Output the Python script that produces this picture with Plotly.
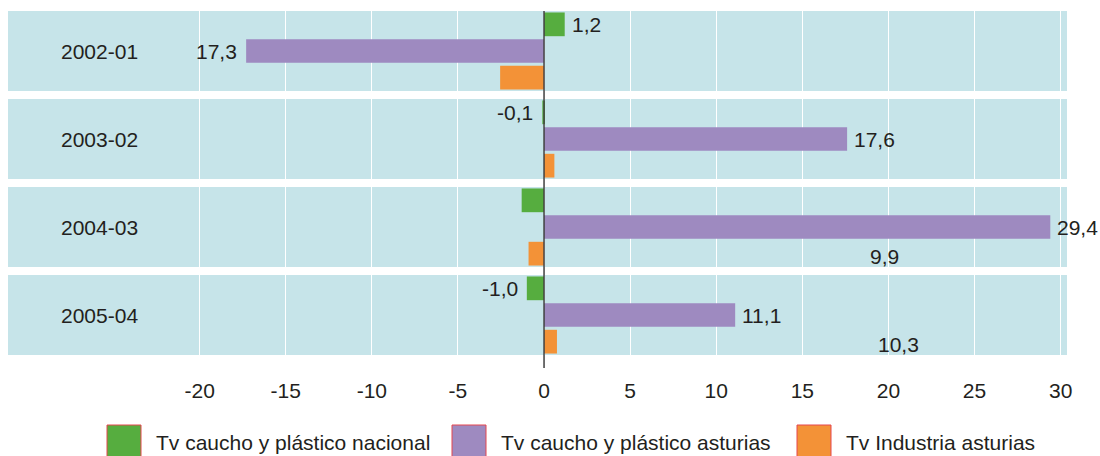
import plotly.graph_objects as go

categories = ["2002-01", "2003-02", "2004-03", "2005-04"]
series_names = ["Tv caucho y plástico nacional", "Tv caucho y plástico asturias", "Tv Industria asturias"]
nacional = [1.2, -0.1, -1.3, -1.0]
asturias = [-17.3, 17.6, 29.4, 11.1]
industria = [-2.55, 0.6, -0.9, 0.75]
nacional_labels = ["1,2", "-0,1", "", "-1,0"]
asturias_labels = ["17,3", "17,6", "29,4", "11,1"]
industria_labels = ["", "", "9,9", "10,3"]
industria_label_pos = [None, None, 19.8, 20.6]
x_ticks = [-20, -15, -10, -5, 0, 5, 10, 15, 20, 25, 30]

colors = ["#56ad3f", "#9e8ac0", "#f39237"]
band_color = "#c6e4e9"
text_color = "#231f20"
FONT = "Liberation Sans, Arial, sans-serif"
FS = 21

fig = go.Figure()
series = [nacional, asturias, industria]
for name, vals, col in zip(series_names, series, colors):
    fig.add_trace(go.Bar(
        y=categories, x=vals, name=name, orientation="h",
        marker=dict(color=col, line=dict(width=0)),
        showlegend=False, hoverinfo="x+y",
    ))

# plot geometry
band_half = 0.4545
slot = 2 * band_half / 3
offsets = [-slot, 0, slot]

shapes = []
annotations = []
for i, cat in enumerate(categories):
    shapes.append(dict(type="rect", xref="paper", x0=0, x1=1, yref="y",
                       y0=i - band_half, y1=i + band_half,
                       fillcolor=band_color, line=dict(width=0), layer="below"))
    annotations.append(dict(x=0.086, xref="paper", y=i, yref="y", text=cat,
                            showarrow=False, xanchor="center", yanchor="middle",
                            font=dict(family=FONT, size=FS, color=text_color)))

# value labels
for s_idx, (vals, labels) in enumerate([(nacional, nacional_labels), (asturias, asturias_labels)]):
    for i, (v, lab) in enumerate(zip(vals, labels)):
        if not lab:
            continue
        pos = v >= 0
        annotations.append(dict(x=v, xref="x", y=i + offsets[s_idx], yref="y", text=lab,
                                showarrow=False, xanchor="left" if pos else "right",
                                xshift=5 if pos else -7, yanchor="middle",
                                font=dict(family=FONT, size=FS, color=text_color)))
for i, (lab, p) in enumerate(zip(industria_labels, industria_label_pos)):
    if not lab:
        continue
    annotations.append(dict(x=p, xref="x", y=i + offsets[2], yref="y", text=lab,
                            showarrow=False, xanchor="center", yanchor="middle", yshift=-3,
                            font=dict(family=FONT, size=FS, color=text_color)))

# zero line
shapes.append(dict(type="line", xref="x", x0=0, x1=0, yref="paper", y0=-0.038, y1=1.0,
                   line=dict(color="#404040", width=1.5), layer="above"))

# manual legend
W, H = 1059.0, 344.0
def px_x(p):
    return (p - 8) / W
def px_y(p):
    return (355 - p) / H
legend_marker_x = [107, 452, 797]
for name, col, mx in zip(series_names, colors, legend_marker_x):
    shapes.append(dict(type="rect", xref="paper", yref="paper",
                       x0=px_x(mx), x1=px_x(mx + 34), y0=px_y(459), y1=px_y(425),
                       fillcolor=col, line=dict(color="#e5474f", width=1)))
    annotations.append(dict(x=px_x(mx + 47), xref="paper", y=px_y(442), yref="paper",
                            text=name, showarrow=False, xanchor="left", yanchor="middle",
                            font=dict(family=FONT, size=FS, color=text_color)))

fig.update_layout(
    width=1100, height=456,
    margin=dict(l=8, r=33, t=11, b=101),
    paper_bgcolor="white", plot_bgcolor="white",
    barmode="group", bargap=1 - 2 * band_half, bargroupgap=0.11,
    shapes=shapes, annotations=annotations,
    font=dict(family=FONT, size=FS, color=text_color),
    xaxis=dict(range=[-31.13, 30.37], tickvals=x_ticks, ticktext=[str(t) for t in x_ticks],
               showgrid=True, gridcolor="white", gridwidth=1, zeroline=False,
               ticks="outside", ticklen=17, tickcolor="rgba(0,0,0,0)",
               tickfont=dict(family=FONT, size=FS, color=text_color), showline=False),
    yaxis=dict(type="category", categoryorder="array", categoryarray=categories,
               range=[len(categories) - 1 + band_half, -band_half],
               showticklabels=False, showgrid=False, zeroline=False, showline=False),
)

fig.write_html("out.html", config={"displayModeBar": False},
               post_script="document.body.style.margin='0';document.body.style.overflow='hidden';")
